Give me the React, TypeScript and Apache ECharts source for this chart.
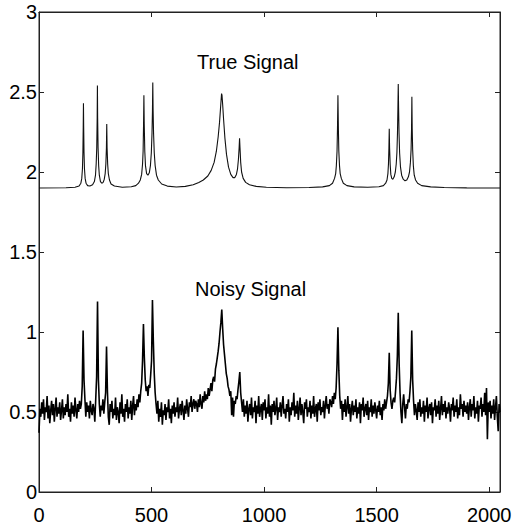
import React, { useEffect, useRef } from "react";
import * as echarts from "echarts";

// x positions of tick labels
const xTicks = [0, 500, 1000, 1500, 2000];
const yTicks = [0, 0.5, 1, 1.5, 2, 2.5, 3];

// True signal: [sample index, value]
const trueSignal: [number, number][] = [
  [0,1.9],[120,1.902],[160,1.905],[178,1.912],[186,1.93],[190,1.96],[193,2.02],[195,2.12],[196.5,2.28],[197.5,2.43],[198.5,2.28],[200,2.12],[202,2.02],[205,1.96],[209,1.93],[216,1.915],[226,1.912],[238,1.92],[246,1.94],[251,1.98],[254,2.05],[256.5,2.15],[258.5,2.34],[259.5,2.54],[260.5,2.34],[262.5,2.15],[265,2.04],[268,1.98],[273,1.94],[279,1.93],[285,1.935],[290,1.955],[294,1.99],[297,2.05],[299.5,2.15],[301,2.3],[302.5,2.15],[305,2.05],[308,1.99],[313,1.95],[320,1.925],[335,1.912],[370,1.905],[410,1.908],[430,1.915],[442,1.93],[450,1.95],[456,1.985],[460,2.05],[462.5,2.13],[464.5,2.3],[466,2.48],[467.5,2.3],[470,2.13],[473,2.04],[478,1.99],[484,1.98],[490,1.995],[495,2.04],[499,2.12],[502,2.24],[504,2.38],[505.5,2.56],[507,2.38],[509,2.24],[512,2.12],[516,2.04],[522,1.98],[530,1.95],[545,1.925],[570,1.912],[610,1.906],[650,1.91],[685,1.92],[710,1.935],[730,1.95],[750,1.975],[765,2.01],[778,2.06],[788,2.13],[796,2.22],[802,2.31],[806,2.39],[809,2.45],[811,2.49],[813,2.48],[816,2.42],[820,2.33],[826,2.21],[833,2.11],[842,2.03],[852,1.985],[862,1.965],[870,1.965],[877,1.985],[882,2.02],[886,2.08],[889,2.15],[891,2.21],[893,2.15],[896,2.06],[900,2.0],[907,1.96],[918,1.935],[935,1.92],[965,1.91],[1010,1.905],[1100,1.902],[1200,1.903],[1260,1.907],[1290,1.915],[1304,1.93],[1313,1.96],[1318,1.99],[1321,2.04],[1324,2.13],[1326,2.27],[1328,2.48],[1330,2.27],[1332,2.13],[1335,2.04],[1338,1.99],[1343,1.96],[1352,1.93],[1368,1.915],[1400,1.907],[1460,1.905],[1510,1.908],[1530,1.915],[1540,1.93],[1546,1.95],[1550,1.99],[1552.5,2.05],[1554.5,2.15],[1556,2.27],[1557.5,2.15],[1560,2.05],[1563,1.985],[1567,1.96],[1572,1.955],[1578,1.97],[1583,2.0],[1587,2.05],[1590,2.12],[1592.5,2.24],[1594.5,2.4],[1596,2.55],[1597.5,2.4],[1599.5,2.24],[1602,2.12],[1606,2.03],[1611,1.98],[1618,1.955],[1626,1.945],[1634,1.95],[1641,1.97],[1646,2.0],[1650,2.06],[1653,2.14],[1655,2.27],[1656.5,2.47],[1658,2.27],[1660,2.14],[1663,2.04],[1667,1.98],[1673,1.95],[1682,1.93],[1700,1.915],[1740,1.907],[1800,1.903],[1900,1.901],[2048,1.9]
];

// Noisy signal: one value every 4 samples, from sample 0 to 2048
const noisyStep = 4;
const noisySignal: number[] = [
  0.37,0.52,0.47,0.56,0.49,0.58,0.45,0.53,0.50,0.60,0.46,0.54,0.43,0.51,0.57,0.48,0.55,0.44,0.52,0.59,0.47,0.53,0.49,0.56,0.45,
  0.51,0.58,0.46,0.53,0.48,0.55,0.50,0.61,0.47,0.52,0.44,0.56,0.49,0.54,0.47,0.59,0.51,0.46,0.55,0.50,0.57,0.52,0.55,0.66,1.01,
  0.70,0.58,0.47,0.56,0.50,0.54,0.46,0.57,0.51,0.48,0.55,0.52,0.44,0.58,0.72,1.19,0.70,0.55,0.47,0.54,0.51,0.58,0.49,0.56,0.62,
  0.91,0.63,0.47,0.42,0.55,0.50,0.57,0.46,0.52,0.48,0.59,0.45,0.53,0.50,0.43,0.56,0.49,0.61,0.47,0.52,0.44,0.55,0.50,0.58,0.46,
  0.53,0.49,0.57,0.45,0.54,0.60,0.48,0.55,0.51,0.58,0.53,0.61,0.56,0.63,0.68,0.82,1.05,0.84,0.70,0.63,0.66,0.60,0.67,0.65,0.73,
  0.82,1.20,0.94,0.74,0.62,0.55,0.49,0.57,0.44,0.52,0.47,0.56,0.42,0.51,0.48,0.55,0.45,0.53,0.50,0.58,0.46,0.52,0.43,0.54,0.49,
  0.56,0.47,0.53,0.50,0.59,0.46,0.52,0.55,0.48,0.57,0.51,0.45,0.54,0.49,0.58,0.52,0.47,0.56,0.53,0.60,0.50,0.55,0.58,0.52,0.57,
  0.55,0.50,0.58,0.53,0.61,0.55,0.52,0.60,0.56,0.63,0.57,0.61,0.58,0.65,0.60,0.64,0.68,0.63,0.70,0.72,0.69,0.77,0.80,0.84,0.88,
  0.93,1.00,1.06,1.14,1.02,0.92,0.86,0.80,0.74,0.71,0.66,0.64,0.60,0.63,0.48,0.59,0.47,0.57,0.55,0.60,0.58,0.64,0.69,0.75,0.62,
  0.56,0.50,0.58,0.47,0.54,0.49,0.57,0.44,0.52,0.55,0.48,0.59,0.46,0.53,0.50,0.57,0.43,0.54,0.49,0.60,0.47,0.52,0.55,0.45,0.56,
  0.51,0.58,0.46,0.53,0.49,0.61,0.47,0.54,0.42,0.55,0.50,0.57,0.48,0.52,0.59,0.45,0.53,0.50,0.56,0.47,0.54,0.60,0.49,0.52,0.46,
  0.55,0.50,0.58,0.44,0.53,0.48,0.56,0.51,0.62,0.47,0.54,0.49,0.57,0.45,0.52,0.59,0.48,0.55,0.50,0.43,0.56,0.52,0.58,0.47,0.53,
  0.50,0.57,0.46,0.54,0.49,0.60,0.47,0.52,0.55,0.44,0.56,0.51,0.58,0.48,0.53,0.50,0.57,0.46,0.54,0.60,0.52,0.55,0.49,0.58,0.56,
  0.53,0.60,0.55,0.62,0.58,0.65,0.80,1.03,0.76,0.60,0.52,0.57,0.45,0.55,0.50,0.58,0.47,0.53,0.60,0.49,0.55,0.44,0.52,0.57,0.48,
  0.54,0.50,0.58,0.46,0.53,0.49,0.56,0.43,0.55,0.51,0.59,0.47,0.52,0.55,0.48,0.57,0.45,0.53,0.50,0.58,0.47,0.54,0.49,0.56,0.51,
  0.46,0.54,0.50,0.57,0.48,0.53,0.45,0.55,0.51,0.58,0.52,0.56,0.60,0.68,0.87,0.64,0.56,0.52,0.57,0.59,0.56,0.63,0.71,0.85,1.12,
  0.80,0.62,0.50,0.43,0.55,0.61,0.53,0.46,0.55,0.52,0.58,0.56,0.63,0.72,1.01,0.70,0.57,0.48,0.55,0.51,0.45,0.56,0.50,0.58,0.47,
  0.53,0.49,0.57,0.44,0.54,0.50,0.59,0.46,0.52,0.55,0.48,0.56,0.43,0.53,0.51,0.58,0.47,0.54,0.49,0.57,0.45,0.52,0.60,0.48,0.55,
  0.50,0.57,0.46,0.53,0.49,0.56,0.52,0.44,0.55,0.51,0.59,0.47,0.54,0.50,0.58,0.46,0.53,0.48,0.61,0.52,0.55,0.47,0.57,0.50,0.54,
  0.49,0.56,0.45,0.53,0.58,0.47,0.55,0.51,0.60,0.46,0.53,0.49,0.57,0.44,0.54,0.52,0.59,0.47,0.55,0.50,0.62,0.48,0.65,0.33,0.56,
  0.50,0.57,0.46,0.54,0.49,0.58,0.45,0.53,0.60,0.47,0.38,0.55,0.50
];

const xMax = 2048;
const labels = ["True Signal", "Noisy Signal"];

const FONT = '"Liberation Sans", Arial, Helvetica, sans-serif';
const AXIS_COLOR = "#222";

export default function App() {
  const ref = useRef<HTMLDivElement>(null);
  useEffect(() => {
    if (!ref.current) return;
    const chart = echarts.init(ref.current, null, { renderer: "svg" });
    const noisyData = noisySignal.map((v, i) => [i * noisyStep, v]);
    const axisCommon = {
      axisLine: { show: true, onZero: false, lineStyle: { color: AXIS_COLOR, width: 1 } },
      axisTick: { show: true, inside: true, length: 5, lineStyle: { color: AXIS_COLOR } },
      splitLine: { show: false },
    };
    chart.setOption({
      animation: false,
      backgroundColor: "#fff",
      grid: {
        left: 39, right: 17, top: 12, bottom: 39, containLabel: false,
        show: true, borderColor: AXIS_COLOR, borderWidth: 1, backgroundColor: "transparent",
      },
      xAxis: [
        {
          type: "value", min: 0, max: xMax, interval: 500, position: "bottom",
          ...axisCommon,
          axisLabel: {
            show: true, margin: 13, color: "#000", fontSize: 20, fontFamily: FONT,
            showMaxLabel: false,
            formatter: (v: number) => (xTicks.includes(v) ? String(v) : ""),
          },
        },
        {
          type: "value", min: 0, max: xMax, interval: 500, position: "top",
          ...axisCommon,
          axisLabel: { show: false },
        },
      ],
      yAxis: [
        {
          type: "value", min: 0, max: 3, interval: 0.5, position: "left",
          ...axisCommon,
          axisLabel: {
            show: true, margin: 2, color: "#000", fontSize: 20, fontFamily: FONT,
            padding: [6, 0, 0, 0],
            formatter: (v: number) => (yTicks.includes(v) ? String(v) : ""),
          },
        },
        {
          type: "value", min: 0, max: 3, interval: 0.5, position: "right",
          ...axisCommon,
          axisLabel: { show: false },
        },
      ],
      series: [
        {
          type: "line", name: labels[0], data: trueSignal, xAxisIndex: 0, yAxisIndex: 0,
          showSymbol: false, symbol: "none", silent: true,
          lineStyle: { color: "#111", width: 1.1 },
        },
        {
          type: "line", name: labels[1], data: noisyData, xAxisIndex: 0, yAxisIndex: 0,
          showSymbol: false, symbol: "none", silent: true,
          lineStyle: { color: "#000", width: 1.6 },
        },
      ],
      graphic: [
        {
          type: "text", left: 197, top: 52,
          style: { text: labels[0], fontSize: 20, fontFamily: FONT, fill: "#000" },
        },
        {
          type: "text", left: 195, top: 279,
          style: { text: labels[1], fontSize: 20, fontFamily: FONT, fill: "#000" },
        },
      ],
    });
    return () => chart.dispose();
  }, []);
  return (
    <div
      ref={ref}
      style={{ position: "fixed", left: 0, top: 0, width: 517, height: 531, background: "#fff" }}
    />
  );
}
